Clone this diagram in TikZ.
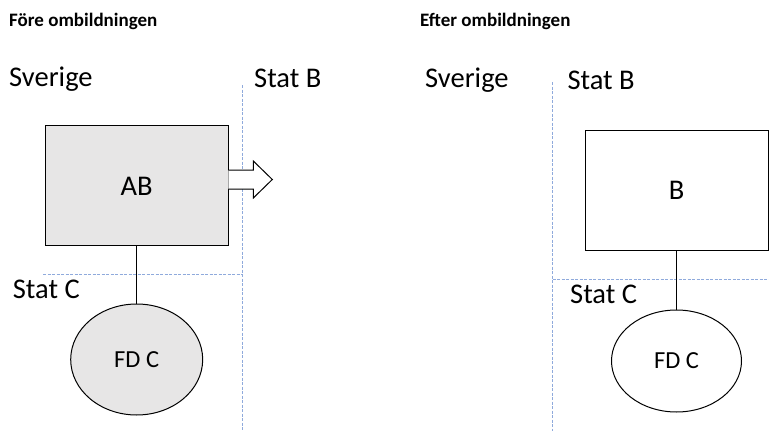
\documentclass[tikz,border=0pt]{standalone}
\usepackage{fontspec}
\setmainfont{Carlito}
\usetikzlibrary{shapes.geometric}
\definecolor{grensfarg}{RGB}{143,170,220}
\definecolor{bolagsgra}{RGB}{231,230,230}
\tikzset{
    rubrik/.style = {anchor = base west, inner sep = 0pt, font = \fontsize{19}{22}\selectfont\bfseries},
    land/.style = {anchor = base west, inner sep = 0pt, font = \fontsize{28.5}{32}\selectfont},
    bolag/.style = {draw, rectangle, line width = 1pt, inner sep = 0pt, minimum width = 183pt, minimum height = 120pt, font = \fontsize{28.5}{32}\selectfont},
    filial/.style = {draw, ellipse, line width = 1pt, inner sep = 0pt, font = \fontsize{24.5}{28}\selectfont},
    grans/.style = {grensfarg, line width = 1pt, dash pattern = on 3pt off 1.5pt}
}
\begin{document}
\begin{tikzpicture}[x = 1pt, y = -1pt]
            \useasboundingbox (0, 0) rectangle (769, 431);
            %\draw[lightgray] (0, 0) grid (769, 431);
            \node[rubrik] (fore) at (9, 26) {Före ombildningen};
            \node[rubrik] (efter) at (420, 26) {Efter ombildningen};

            \draw[grans] (242.7, 85) -- (242.7, 431);
            \draw[grans] (43, 274.3) -- (242.7, 274.3);
            \draw[grans] (552.7, 82) -- (552.7, 431);
            \draw[grans] (552.7, 279) -- (769, 279);

            \node[land] (sverigeA) at (9, 86.7) {Sverige};
            \node[land] (statBA) at (254, 87.3) {Stat B};
            \node[land] (statCA) at (12.7, 298.3) {Stat C};
            \node[land] (sverigeB) at (425, 87) {Sverige};
            \node[land] (statBB) at (567.3, 89.5) {Stat B};
            \node[land] (statCB) at (570, 303.3) {Stat C};

            \node[bolag, fill = bolagsgra] (ab) at (136.7, 185.9) {AB};
            \node[filial, fill = bolagsgra, minimum width = 132pt, minimum height = 111pt] (fdcA) at (136.7, 359.5) {FD C};
            \draw[line width = 0.6pt] (ab.south) -- (fdcA.north);

            \coordinate (pil) at (228.3, 179.5);
            \draw[line width = 1pt, fill = white] (pil) ++(0, -9.5) -- ++(25, 0) -- ++(0, -9) -- ++(19, 18.5) -- ++(-19, 18.5) -- ++(0, -9) -- ++(-25, 0);

            \node[bolag, fill = white] (b) at (676.5, 190.5) {B};
            \node[filial, fill = white, minimum width = 130pt, minimum height = 102pt] (fdcB) at (676.5, 361) {FD C};
            \draw[line width = 0.6pt] (b.south) -- (fdcB.north);
\end{tikzpicture}
\end{document}
